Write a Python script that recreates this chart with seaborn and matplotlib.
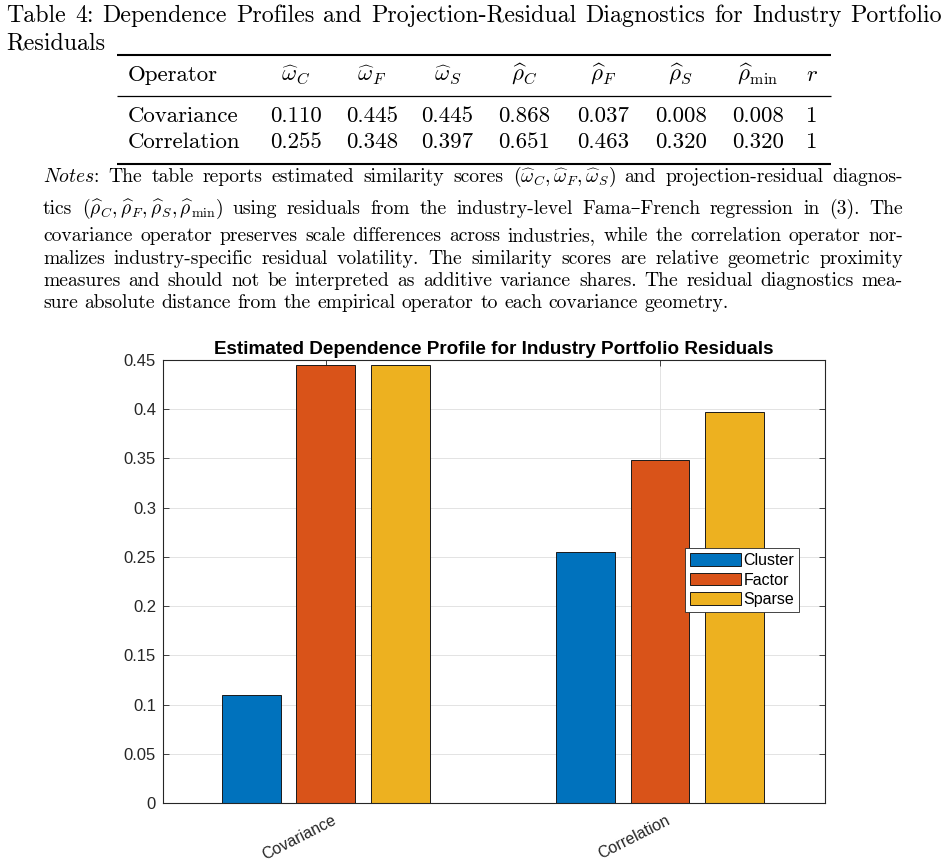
import numpy as np
import pandas as pd
import matplotlib
matplotlib.use("Agg")
import matplotlib.pyplot as plt
import seaborn as sns
from matplotlib.lines import Line2D
from matplotlib.ticker import FuncFormatter
import matplotlib.transforms as mtransforms

# ---------------- data ----------------
operators = ["Covariance", "Correlation"]
structures = ["Cluster", "Factor", "Sparse"]
omega_covariance = [0.110, 0.445, 0.445]
omega_correlation = [0.255, 0.348, 0.397]
rho_covariance = [0.868, 0.037, 0.008, 0.008]
rho_correlation = [0.651, 0.463, 0.320, 0.320]
rank_r = [1, 1]
colors = ["#0072BD", "#D95319", "#EDB120"]
ytick_values = [0, 0.05, 0.10, 0.15, 0.20, 0.25, 0.30, 0.35, 0.40, 0.45]

caption_line1 = "Table 4: Dependence Profiles and Projection-Residual Diagnostics for Industry Portfolio"
caption_line2 = "Residuals"
table_headers = [r"$\widehat{\omega}_C$", r"$\widehat{\omega}_F$", r"$\widehat{\omega}_S$",
                 r"$\widehat{\rho}_C$", r"$\widehat{\rho}_F$", r"$\widehat{\rho}_S$",
                 r"$\widehat{\rho}_{\mathrm{min}}$", r"$r$"]
notes_lines = [
    [r"$\mathit{Notes}$:", "The", "table", "reports", "estimated", "similarity", "scores",
     r"$(\widehat{\omega}_C,\widehat{\omega}_F,\widehat{\omega}_S)$", "and", "projection-residual", "diagnos-"],
    ["tics", r"$(\widehat{\rho}_C,\widehat{\rho}_F,\widehat{\rho}_S,\widehat{\rho}_{\mathrm{min}})$",
     "using", "residuals", "from", "the", "industry-level", "Fama–French", "regression", "in", "(3).", "The"],
    "covariance operator preserves scale differences across industries, while the correlation operator nor-".split(),
    "malizes industry-specific residual volatility. The similarity scores are relative geometric proximity".split(),
    "measures and should not be interpreted as additive variance shares. The residual diagnostics mea-".split(),
    "sure absolute distance from the empirical operator to each covariance geometry.".split(),
]
chart_title = "Estimated Dependence Profile for Industry Portfolio Residuals"

# ---------------- setup ----------------
W, H = 947, 868
plt.rcParams["mathtext.fontset"] = "cm"
SERIF = ["cmr10", "DejaVu Serif"]
SANS = ["Liberation Sans", "DejaVu Sans"]
plt.rcParams["font.family"] = SANS
plt.rcParams["axes.unicode_minus"] = False

fig = plt.figure(figsize=(W / 100, H / 100), dpi=100)
fig.patch.set_facecolor("white")
renderer = fig.canvas.get_renderer()


def fx(x):
    return x / W


def fy(y):
    return 1 - y / H


def width_of(s, size, family):
    t = fig.text(0, 0, s, fontsize=size, family=family)
    w = t.get_window_extent(renderer).width
    t.remove()
    return w


def fit_size(s, target, family):
    return 10 * target / width_of(s, 10, family)


def put_line(words, x0, x1, y, size, justify=True, family=SERIF):
    texts = [fig.text(0, fy(y), w, fontsize=size, family=family,
                      va="baseline", ha="left") for w in words]
    widths = [t.get_window_extent(renderer).width for t in texts]
    if justify and len(words) > 1:
        gap = (x1 - x0 - sum(widths)) / (len(words) - 1)
    else:
        gap = size * 100 / 72 * 0.333
    x = x0
    for t, w in zip(texts, widths):
        t.set_x(fx(x))
        x += w + gap


def hrule(x0, x1, y, lw):
    fig.add_artist(Line2D([fx(x0), fx(x1)], [fy(y), fy(y)], transform=fig.transFigure,
                          color="black", lw=lw, solid_capstyle="butt"))


# ---------------- caption ----------------
cap_size = fit_size(caption_line2, 100, SERIF)
put_line(caption_line1.split(), 6, 942, 22, cap_size)
put_line([caption_line2], 6, 100, 49, cap_size, justify=False)

# ---------------- table ----------------
tab_size = fit_size("Covariance", 111, SERIF)
hrule(117, 831, 54.5, 1.5)
hrule(117, 831, 96, 0.9)
hrule(117, 831, 163.5, 1.5)
col_x = [296, 372, 447.5, 524.5, 603, 681, 758, 812]
fig.text(fx(128), fy(81), "Operator", fontsize=tab_size, family=SERIF, va="baseline", ha="left")
for cx, h in zip(col_x, table_headers):
    fig.text(fx(cx), fy(81), h, fontsize=tab_size, family=SERIF, va="baseline", ha="center")
row_vals = [omega_covariance + rho_covariance, omega_correlation + rho_correlation]
for op, vals, rk, yb in zip(operators, row_vals, rank_r, [122, 148]):
    fig.text(fx(128), fy(yb), op, fontsize=tab_size, family=SERIF, va="baseline", ha="left")
    cells = [f"{v:.3f}" for v in vals] + [str(rk)]
    for cx, c in zip(col_x, cells):
        fig.text(fx(cx), fy(yb), c, fontsize=tab_size, family=SERIF, va="baseline", ha="center")

# ---------------- notes ----------------
notes_size = fit_size(" ".join(notes_lines[-1]), 687, SERIF)
baselines = [182, 214, 241, 263.5, 286, 308.5]
for i, (words, yb) in enumerate(zip(notes_lines, baselines)):
    put_line(words, 43, 903, yb, notes_size, justify=(i < len(notes_lines) - 1))

# ---------------- chart ----------------
df = pd.DataFrame({
    "Operator": np.repeat(operators, len(structures)),
    "Structure": structures * len(operators),
    "Score": omega_covariance + omega_correlation,
})

ax = fig.add_axes([fx(163), fy(803), 662 / W, 443 / H])
sns.barplot(data=df, x="Operator", y="Score", hue="Structure", order=operators,
            hue_order=structures, palette=colors, saturation=1, width=0.669, gap=0.208,
            edgecolor="#1a1a1a", linewidth=0.7, ax=ax, legend=True)

ax.set_xlim(-0.488, 1.494)
ax.set_ylim(0, 0.45)
ax.set_yticks(ytick_values)
ax.yaxis.set_major_formatter(FuncFormatter(lambda v, p: f"{v:g}"))
ax.set_xlabel("")
ax.set_ylabel("")
ax.set_axisbelow(True)
ax.grid(True, color="#dedede", lw=0.6)
for s in ax.spines.values():
    s.set_color("#262626")
    s.set_linewidth(0.8)
ax.tick_params(direction="in", top=True, right=True, length=4, width=0.6,
               color="#262626", labelsize=12, labelcolor="#262626")
ax.tick_params(axis="y", pad=5)
ax.tick_params(axis="x", pad=7)
ax.set_xticks([0, 1])
ax.set_xticklabels(operators, rotation=27, ha="right", rotation_mode="anchor", fontsize=11.5)
offset = mtransforms.ScaledTranslation(6 / 100, 0, fig.dpi_scale_trans)
for lbl in ax.get_xticklabels():
    lbl.set_transform(lbl.get_transform() + offset)

title_size = 10 * 557 / width_of(chart_title, 10, SANS) * 0.93
ax.set_title(chart_title, fontsize=title_size, fontweight="bold", pad=4, color="black")

leg = ax.legend(loc="upper left", bbox_to_anchor=(0.7885, 0.5756), frameon=True,
                fancybox=False, edgecolor="#262626", framealpha=1, fontsize=11.5,
                handlelength=3.2, handleheight=0.85, labelspacing=0.3, borderpad=0.3,
                handletextpad=0.15, borderaxespad=0)
leg.get_frame().set_linewidth(0.6)
for p in leg.get_patches():
    p.set_edgecolor("#1a1a1a")
    p.set_linewidth(0.7)

fig.savefig("out.png", dpi=100, facecolor="white")
